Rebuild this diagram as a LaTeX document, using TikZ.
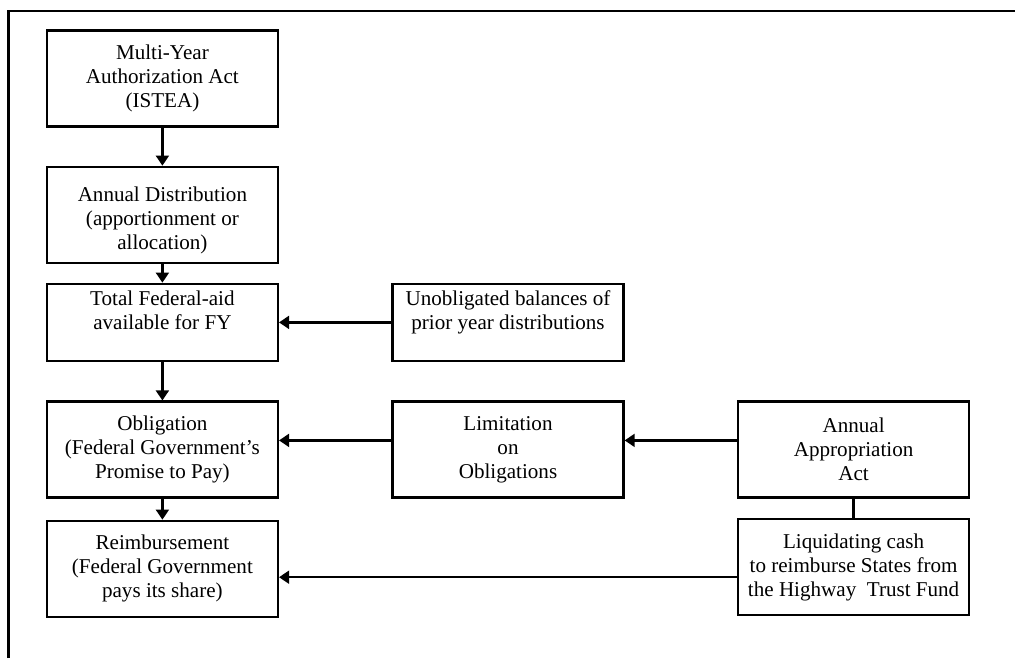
\documentclass[tikz,border=0pt]{standalone}
\usepackage{fontspec}
\setmainfont{Liberation Serif}
\usetikzlibrary{arrows.meta}

\begin{document}
\begin{tikzpicture}[
    node distance=8.64cm,
    box/.style={rectangle, draw, line width=1.6pt, inner sep=2pt, minimum width=5.775cm, minimum height=2.4cm, align=center, font=\fontsize{15}{17}\selectfont},
    flat/.style={box, minimum height=1.93cm},
    arrow/.style={-{Triangle[length=2.5mm,width=3.2mm]}, line width=1.6pt},
    link/.style={line width=1.6pt},
    frame/.style={line width=1.8pt}
]
    \useasboundingbox (0,0) rectangle (25.375,-16.45);

    % Frame (top and left edges)
    \draw[frame] (0.21,-16.45) -- (0.21,-0.28) -- (25.375,-0.28);

    % Left column
    \node[box] (istea) at (4.06,-1.96) {Multi-Year\\Authorization Act\\(ISTEA)};
    \node[box, below of=istea, node distance=3.41cm] (dist) {\mbox{}\\[1pt]Annual Distribution\\(apportionment or\\allocation)};
    \node[flat, below of=dist, node distance=2.69cm] (total) {Total Federal-aid\\available for FY\\\mbox{}};
    \node[box, below of=total, node distance=3.18cm] (oblig) {Obligation\\(Federal Government's\\Promise to Pay)};
    \node[box, below of=oblig, node distance=2.98cm] (reimb) {Reimbursement\\(Federal Government\\pays its share)};

    % Middle and right columns
    \node[flat, right of=total] (unobl) {Unobligated balances of\\prior year distributions\\\mbox{}};
    \node[box, right of=oblig] (limit) {Limitation\\on\\Obligations};
    \node[box, right of=limit] (approp) {Annual\\Appropriation\\Act};
    \node[box, below of=approp, node distance=2.94cm] (liquid) {Liquidating cash\\to reimburse States from\\the Highway\ \ Trust Fund};

    % Arrows
    \draw[arrow] (istea) -- (dist);
    \draw[arrow] (dist) -- (total);
    \draw[arrow] (total) -- (oblig);
    \draw[arrow] (oblig) -- (reimb);
    \draw[arrow] (unobl) -- (total);
    \draw[arrow] ([yshift=2.3mm]limit.west) -- ([yshift=2.3mm]limit.west -| oblig.east);
    \draw[arrow] ([yshift=2.3mm]approp.west) -- ([yshift=2.3mm]approp.west -| limit.east);
    \draw[link] (approp) -- (liquid);
    \draw[arrow] ([yshift=-2.5mm]liquid.west) -- ([yshift=-2.5mm]liquid.west -| reimb.east);

\end{tikzpicture}
\end{document}
